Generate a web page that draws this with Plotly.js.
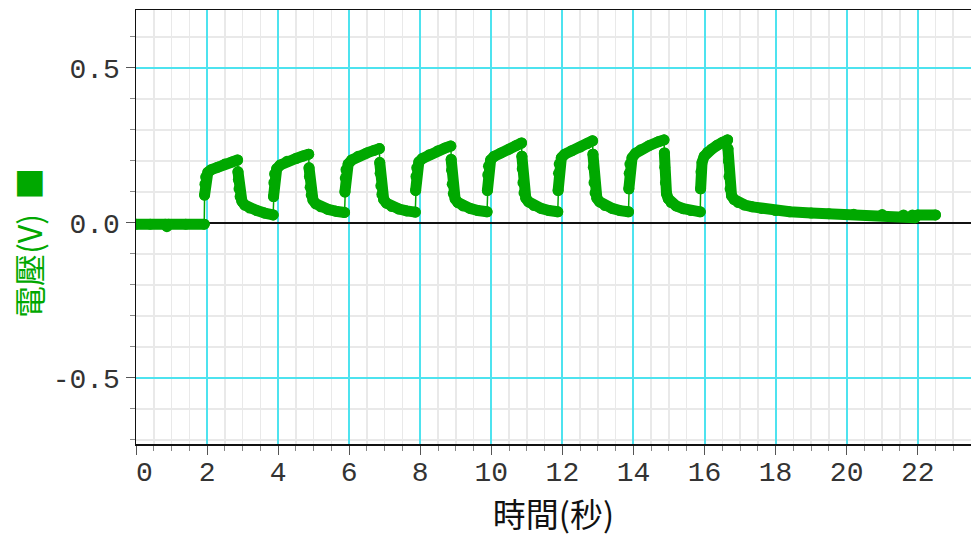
<!DOCTYPE html>
<html>
<head>
<meta charset="utf-8">
<script src="https://cdn.plot.ly/plotly-3.0.1.min.js"></script>
<style>
html,body{margin:0;padding:0;background:#fff;}
#chart{width:971px;height:537px;}
.scatterlayer .js-line{stroke-linejoin:round;stroke-linecap:round;}
</style>
</head>
<body>
<div id="chart"></div>
<script>
// time (s)
const tSec = [
  0, 0.4, 0.82, 0.87, 0.92, 1.4, 1.92,
  1.93, 1.94, 1.96, 2.02, 2.12, 2.3, 2.5, 2.7, 2.86,
  2.87, 2.88, 2.9, 2.93, 2.98, 3.06, 3.2, 3.4, 3.62, 3.86,
  3.87, 3.88, 3.9, 3.96, 4.06, 4.25, 4.5, 4.7, 4.86,
  4.87, 4.88, 4.9, 4.93, 4.98, 5.06, 5.2, 5.4, 5.62, 5.87,
  5.88, 5.89, 5.91, 5.97, 6.07, 6.25, 6.5, 6.7, 6.85,
  6.86, 6.87, 6.89, 6.92, 6.97, 7.05, 7.2, 7.4, 7.62, 7.86,
  7.87, 7.88, 7.9, 7.96, 8.06, 8.25, 8.5, 8.7, 8.86,
  8.87, 8.88, 8.9, 8.93, 8.98, 9.06, 9.2, 9.4, 9.62, 9.88,
  9.89, 9.9, 9.92, 9.98, 10.08, 10.27, 10.5, 10.7, 10.85,
  10.86, 10.87, 10.89, 10.92, 10.97, 11.05, 11.2, 11.4, 11.62, 11.87,
  11.88, 11.89, 11.91, 11.97, 12.07, 12.26, 12.5, 12.7, 12.85,
  12.86, 12.87, 12.89, 12.92, 12.97, 13.05, 13.2, 13.4, 13.62, 13.86,
  13.87, 13.88, 13.9, 13.96, 14.06, 14.2, 14.45, 14.7, 14.86,
  14.87, 14.88, 14.9, 14.93, 14.98, 15.06, 15.2, 15.4, 15.62, 15.88,
  15.89, 15.9, 15.93, 15.99, 16.08, 16.2, 16.35, 16.5, 16.65,
  16.66, 16.67, 16.69, 16.72, 16.76, 16.84, 16.95, 17.13, 17.35, 17.6, 18.0, 18.4,
  19.0, 19.5, 20.2, 21.0, 21.6, 21.85, 21.93, 22.0, 22.5
];
// voltage (V)
const volt = [
  -0.004, -0.004, -0.004, -0.012, -0.004, -0.004, -0.004,
  0.09, 0.125, 0.148, 0.163, 0.172, 0.18, 0.19, 0.197, 0.203,
  0.165, 0.14, 0.11, 0.085, 0.07, 0.058, 0.048, 0.04, 0.032, 0.026,
  0.085, 0.13, 0.158, 0.175, 0.187, 0.199, 0.208, 0.216, 0.222,
  0.178, 0.15, 0.115, 0.09, 0.074, 0.062, 0.052, 0.044, 0.038, 0.034,
  0.1, 0.145, 0.172, 0.19, 0.203, 0.215, 0.226, 0.234, 0.24,
  0.195, 0.16, 0.12, 0.092, 0.076, 0.064, 0.053, 0.045, 0.039, 0.035,
  0.105, 0.15, 0.178, 0.197, 0.208, 0.22, 0.233, 0.242, 0.248,
  0.205, 0.17, 0.125, 0.095, 0.078, 0.066, 0.055, 0.047, 0.04, 0.036,
  0.105, 0.155, 0.183, 0.203, 0.215, 0.226, 0.238, 0.25, 0.258,
  0.215, 0.175, 0.13, 0.097, 0.08, 0.068, 0.056, 0.047, 0.04, 0.036,
  0.105, 0.16, 0.19, 0.21, 0.222, 0.233, 0.245, 0.256, 0.265,
  0.222, 0.18, 0.13, 0.097, 0.08, 0.068, 0.056, 0.047, 0.04, 0.036,
  0.11, 0.16, 0.19, 0.21, 0.225, 0.236, 0.25, 0.262, 0.268,
  0.226, 0.18, 0.13, 0.095, 0.078, 0.066, 0.055, 0.046, 0.04, 0.036,
  0.11, 0.165, 0.195, 0.215, 0.228, 0.238, 0.25, 0.26, 0.268,
  0.24, 0.2, 0.15, 0.11, 0.088, 0.075, 0.066, 0.058, 0.052, 0.047, 0.04, 0.036,
  0.032, 0.03, 0.028, 0.027, 0.026, 0.026, 0.017, 0.026, 0.026
];
const xTickVals = [0, 2, 4, 6, 8, 10, 12, 14, 16, 18, 20, 22];
const xTickText = ['\u00a00', '2', '4', '6', '8', '10', '12', '14', '16', '18', '20', '22'];
const yTickVals = [-0.5, 0, 0.5];
const yTickText = ['-0.5', '0.0', '0.5'];
const xTitle = '時間(秒)';
const yTitle = '電壓(V)\u00a0\u00a0■';

const GREEN = '#00a800';
const CYAN = '#4ee3ef';

// thick band: break after each pulse top and at each step-up from the low level
const tThick = [], vThick = [];
for (let i = 0; i < tSec.length; i++) {
  const stepUp = i > 0 && volt[i - 1] < 0.05 && volt[i] >= 0.07;
  const afterPeak = i > 1 && volt[i - 1] > volt[i - 2] && volt[i] < volt[i - 1] - 0.02;
  if (stepUp || afterPeak) { tThick.push(null); vThick.push(null); }
  tThick.push(tSec[i]); vThick.push(volt[i]);
}

// minor grid positions that do not sit on a major line
const xMinor = [], yMinor = [];
for (let i = 0; i <= 47; i++) if (i % 4 !== 0) xMinor.push(i * 0.5);
for (let i = -7; i <= 6; i++) if (i % 5 !== 0) yMinor.push(i / 10);

const traces = [
  {x: tSec, y: volt, type: 'scatter', mode: 'lines',
   line: {color: GREEN, width: 1.5}, hoverinfo: 'skip', showlegend: false},
  {x: tThick, y: vThick, type: 'scatter', mode: 'lines+markers',
   line: {color: GREEN, width: 11}, marker: {color: GREEN, size: 11, symbol: 'circle'},
   connectgaps: false, showlegend: false}
];

const tickFont = {family: 'Liberation Mono, DejaVu Sans Mono, monospace', size: 28, color: '#333'};

const layout = {
  width: 971, height: 537,
  margin: {l: 136, r: 0, t: 10, b: 93, pad: 0},
  paper_bgcolor: '#fff', plot_bgcolor: '#fff',
  showlegend: false,
  xaxis: {
    range: [0, 23.5],
    tickmode: 'array', tickvals: xTickVals, ticktext: xTickText,
    tickfont: tickFont,
    ticks: 'outside', ticklen: 9, tickwidth: 1, tickcolor: '#555',
    ticklabelstandoff: -7,
    showgrid: true, gridcolor: CYAN, gridwidth: 2,
    minor: {tickmode: 'array', tickvals: xMinor, showgrid: true, gridcolor: '#e9e9e9', gridwidth: 1.5,
            ticks: 'outside', ticklen: 5, tickcolor: '#888'},
    showline: true, linecolor: '#111', linewidth: 1.5, mirror: true,
    zeroline: false,
    title: {text: xTitle, font: {family: 'Noto Sans CJK TC', size: 33, color: '#111'}, standoff: 11}
  },
  yaxis: {
    range: [-0.713, 0.687],
    tickmode: 'array', tickvals: yTickVals, ticktext: yTickText,
    tickfont: tickFont,
    ticks: 'outside', ticklen: 9, tickwidth: 1, tickcolor: '#555',
    ticklabelstandoff: 0,
    showgrid: true, gridcolor: CYAN, gridwidth: 2,
    minor: {tickmode: 'array', tickvals: yMinor, showgrid: true, gridcolor: '#e9e9e9', gridwidth: 1.5,
            ticks: 'outside', ticklen: 5, tickcolor: '#888'},
    showline: true, linecolor: '#111', linewidth: 1.5, mirror: false,
    zeroline: true, zerolinecolor: '#111', zerolinewidth: 1.5
  },
  annotations: [{
    text: yTitle, textangle: -90,
    xref: 'paper', yref: 'paper',
    x: (28 - 136) / 835, y: (444 - 243) / 434,
    xanchor: 'center', yanchor: 'middle', showarrow: false,
    font: {family: 'Noto Sans CJK TC', size: 32, color: GREEN}
  }]
};

Plotly.newPlot('chart', traces, layout, {displayModeBar: false, staticPlot: true});
</script>
</body>
</html>
